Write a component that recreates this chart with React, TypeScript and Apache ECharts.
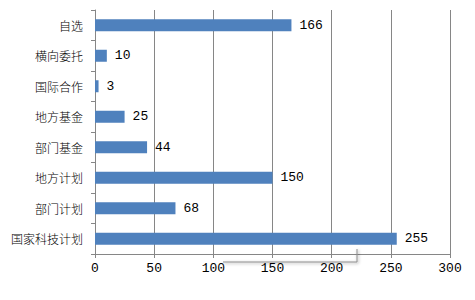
import React, { useEffect, useRef } from "react";
import * as echarts from "echarts";

const categories = ["国家科技计划", "部门计划", "地方计划", "部门基金", "地方基金", "国际合作", "横向委托", "自选"];
const values = [255, 68, 150, 44, 25, 3, 10, 166];
const xTicks = { min: 0, max: 300, interval: 50 };

export default function App() {
  const ref = useRef<HTMLDivElement>(null);
  useEffect(() => {
    const chart = echarts.init(ref.current!, null, { renderer: "svg" });
    const font = "'Noto Sans CJK SC', 'DejaVu Sans', sans-serif";
    const numFont = "'Liberation Mono', 'DejaVu Sans Mono', monospace";
    chart.setOption({
      animation: false,
      backgroundColor: "#ffffff",
      grid: { left: 95, right: 25, top: 10, bottom: 46, containLabel: false },
      xAxis: {
        type: "value",
        min: xTicks.min,
        max: xTicks.max,
        interval: xTicks.interval,
        axisLine: { show: true, lineStyle: { color: "#868686", width: 1 } },
        axisTick: { show: true, length: 4, lineStyle: { color: "#868686" } },
        splitLine: { show: true, lineStyle: { color: "#868686", width: 1 } },
        axisLabel: { color: "#000", fontSize: 13, fontFamily: numFont, margin: 8 },
      },
      yAxis: {
        type: "category",
        data: categories,
        axisLine: { show: true, lineStyle: { color: "#868686", width: 1 } },
        axisTick: { show: true, length: 4, alignWithLabel: false, lineStyle: { color: "#868686" } },
        axisLabel: { color: "#000", fontSize: 12, fontFamily: font, fontWeight: 300, margin: 12 },
      },
      series: [
        {
          type: "bar",
          data: values,
          barWidth: 12,
          itemStyle: { color: "#4F81BD" },
          label: { show: true, position: "right", distance: 8, color: "#000", fontSize: 13, fontFamily: numFont },
        },
      ],
      graphic: [
        {
          type: "polyline",
          shape: { points: [[223, 262], [357, 262], [357, 249]] },
          style: { stroke: "#8c8c8c", lineWidth: 1, fill: null, shadowBlur: 3, shadowColor: "rgba(0,0,0,0.4)", shadowOffsetX: 1, shadowOffsetY: 1 },
          z: 100,
        },
      ],
    });
    return () => chart.dispose();
  }, []);
  return <div ref={ref} style={{ width: 475, height: 300, position: "absolute", left: 0, top: 0 }} />;
}
